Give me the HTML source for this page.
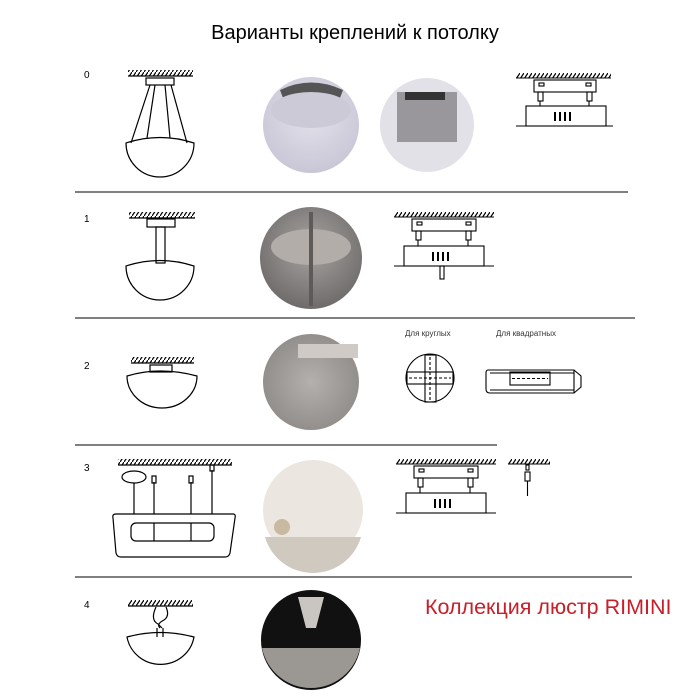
<!DOCTYPE html>
<html><head><meta charset="utf-8"><style>
html,body{margin:0;padding:0;background:#fff;width:700px;height:700px;overflow:hidden}
svg{display:block}
text{font-family:"Liberation Sans","Noto Sans CJK SC",sans-serif}
</style></head><body>
<svg width="700" height="700" viewBox="0 0 700 700" xmlns="http://www.w3.org/2000/svg">
<defs>
<pattern id="h" width="4" height="6" patternUnits="userSpaceOnUse"><line x1="0" y1="6" x2="4" y2="0" stroke="#000" stroke-width="1.2"/></pattern>
<radialGradient id="g0" cx="50%" cy="40%" r="60%"><stop offset="0" stop-color="#e4e2ec"/><stop offset="1" stop-color="#c9c6d6"/></radialGradient>
<radialGradient id="g1" cx="50%" cy="40%" r="60%"><stop offset="0" stop-color="#a8a4a2"/><stop offset="1" stop-color="#6f6b6a"/></radialGradient>
<radialGradient id="g2" cx="50%" cy="50%" r="60%"><stop offset="0" stop-color="#b4b0ad"/><stop offset="1" stop-color="#8c8886"/></radialGradient>
</defs>
<text x="355" y="39" font-size="20" text-anchor="middle">Варианты креплений к потолку</text>
<g font-size="10"><text x="84" y="78">0</text><text x="84" y="222">1</text><text x="84" y="369">2</text><text x="84" y="471">3</text><text x="84" y="608">4</text></g>
<g stroke="#000" stroke-width="1"><line x1="75" y1="192" x2="628" y2="192"/><line x1="75" y1="318" x2="635" y2="318"/><line x1="75" y1="445" x2="497" y2="445"/><line x1="75" y1="577" x2="632" y2="577"/></g>
<g fill="none" stroke="#000" stroke-width="1.2">
<!-- row0 -->
<rect x="128" y="70" width="65" height="6" fill="url(#h)" stroke="none"/><line x1="128" y1="76" x2="193" y2="76"/>
<rect x="146" y="78" width="28" height="7"/>
<path d="M150,85 L131,143 M155,85 L147,138 M165,85 L170,138 M171,85 L187,143"/>
<path d="M126,143 Q160,132 194,143 A34,34 0 0 1 126,143 Z"/>
<!-- row1 -->
<rect x="129" y="212" width="66" height="6" fill="url(#h)" stroke="none"/><line x1="129" y1="218" x2="195" y2="218"/>
<rect x="147" y="219" width="28" height="8"/><rect x="156" y="227" width="9" height="36"/>
<path d="M126,266 Q160,255 194,266 A34,34 0 0 1 126,266 Z"/>
<!-- row2 -->
<rect x="131" y="357" width="63" height="6" fill="url(#h)" stroke="none"/><line x1="131" y1="363" x2="194" y2="363"/>
<rect x="150" y="365" width="22" height="7"/>
<path d="M127,376 Q160,366 197,376 A35,32 0 0 1 127,376 Z"/>
<!-- row3 -->
<rect x="118" y="459" width="114" height="6" fill="url(#h)" stroke="none"/><line x1="118" y1="465" x2="232" y2="465"/>
<ellipse cx="134" cy="477" rx="12" ry="6"/>
<path d="M134,483 V514 M154,482 V514 M191,482 V514 M212,470 V514"/>
<rect x="152" y="476" width="4" height="7"/><rect x="189" y="476" width="4" height="7"/><rect x="210" y="465" width="4" height="6"/>
<path d="M116,514 L233,514 Q236,514 235,518 L230,553 Q229,557 225,557 L121,557 Q117,557 116,553 L113,518 Q112,514 116,514 Z"/>
<rect x="131" y="523" width="83" height="18" rx="5"/><path d="M154,523V541 M191,523V541"/>
<!-- row4 -->
<rect x="128" y="600" width="65" height="6" fill="url(#h)" stroke="none"/><line x1="128" y1="606" x2="193" y2="606"/>
<path d="M156,607 Q150,620 158,624 L162,628 M166,607 Q170,616 164,620 Q156,624 160,628 M157,628 V637 M163,628 V637"/>
<path d="M127,637 Q160,628 194,637 A34,33 0 0 1 127,637 Z"/>
</g>
<!-- photos -->
<circle cx="311" cy="125" r="48" fill="url(#g0)"/>
<path d="M280,90 Q311,75 343,90 L340,98 L283,98 Z" fill="#555"/>
<ellipse cx="311" cy="110" rx="40" ry="18" fill="#cdcad8"/>
<circle cx="427" cy="125" r="47" fill="#e3e1e8"/>
<rect x="397" y="92" width="60" height="50" fill="#9a979c"/><rect x="405" y="92" width="40" height="8" fill="#333"/>
<circle cx="311" cy="258" r="51" fill="url(#g1)"/>
<ellipse cx="311" cy="247" rx="40" ry="18" fill="#b3adaa"/><rect x="309" y="212" width="4" height="94" fill="#5e5a58"/>
<circle cx="311" cy="382" r="48" fill="url(#g2)"/>
<rect x="298" y="344" width="60" height="14" fill="#cfcac6"/>
<circle cx="313" cy="510" r="50" fill="#ebe6e0"/>
<path d="M265,537 L361,537 A50,50 0 0 1 265,537 Z" fill="#cfc9c0"/>
<circle cx="282" cy="527" r="8" fill="#c9b9a0"/>
<circle cx="311" cy="640" r="50" fill="#111"/>
<path d="M262,648 L360,648 A50,50 0 0 1 262,648 Z" fill="#9b9894"/>
<path d="M298,597 L324,597 L316,628 L306,628 Z" fill="#c9c6c2"/>
<!-- right diagrams -->
<g fill="none" stroke="#000" stroke-width="1.1">
<g transform="translate(516,73)">
<rect x="0" y="0" width="95" height="5" fill="url(#h)" stroke="none"/><line x1="0" y1="5" x2="95" y2="5"/>
<rect x="18" y="7" width="62" height="12"/><rect x="23" y="10" width="5" height="3"/><rect x="70" y="10" width="5" height="3"/>
<rect x="22" y="19" width="5" height="9"/><rect x="71" y="19" width="5" height="9"/>
<line x1="24" y1="28" x2="24" y2="33"/><line x1="73" y1="28" x2="73" y2="33"/>
<rect x="10" y="33" width="80" height="20"/><line x1="0" y1="53" x2="97" y2="53"/>
<path d="M39,39V48 M44,39V48 M49,39V48 M54,39V48" stroke-width="2"/>
</g>
<g transform="translate(394,212)">
<rect x="0" y="0" width="100" height="5" fill="url(#h)" stroke="none"/><line x1="0" y1="5" x2="100" y2="5"/>
<rect x="18" y="7" width="64" height="12"/><rect x="23" y="10" width="5" height="3"/><rect x="72" y="10" width="5" height="3"/>
<rect x="22" y="19" width="5" height="9"/><rect x="72" y="19" width="5" height="9"/>
<line x1="24" y1="28" x2="24" y2="34"/><line x1="74" y1="28" x2="74" y2="34"/>
<rect x="10" y="34" width="80" height="20"/><line x1="0" y1="54" x2="100" y2="54"/>
<rect x="46" y="54" width="4" height="13"/>
<path d="M39,40V49 M44,40V49 M49,40V49 M54,40V49" stroke-width="2"/>
</g>
<g transform="translate(396,459)">
<rect x="0" y="0" width="100" height="5" fill="url(#h)" stroke="none"/><line x1="0" y1="5" x2="100" y2="5"/>
<rect x="18" y="7" width="64" height="12"/><rect x="23" y="10" width="5" height="3"/><rect x="72" y="10" width="5" height="3"/>
<rect x="22" y="19" width="5" height="9"/><rect x="72" y="19" width="5" height="9"/>
<line x1="24" y1="28" x2="24" y2="34"/><line x1="74" y1="28" x2="74" y2="34"/>
<rect x="10" y="34" width="80" height="20"/><line x1="0" y1="54" x2="100" y2="54"/>
<path d="M39,40V49 M44,40V49 M49,40V49 M54,40V49" stroke-width="2"/>
</g>
<g transform="translate(508,459)">
<rect x="0" y="0" width="42" height="5" fill="url(#h)" stroke="none"/><line x1="0" y1="5" x2="42" y2="5"/>
<rect x="18" y="6" width="3" height="5"/><rect x="17" y="13" width="5" height="9"/><line x1="19.5" y1="22" x2="19.5" y2="37"/>
</g>
<circle cx="430" cy="378" r="24"/>
<rect x="425" y="355" width="11" height="47"/><rect x="407" y="372" width="46" height="12"/>
<path d="M409,378H451 M430,357V400" stroke-dasharray="3,2"/>
<path d="M488,370 H574 L581,376 V387 L574,393 H490 Q486,393 486,389 V373 Q486,370 488,370 Z"/>
<path d="M574,370 V393 M490,373 H574 M490,390 H574"/>
<rect x="510" y="372" width="40" height="13"/><path d="M512,378.5H548" stroke-dasharray="3,2"/>
</g>
<text x="405" y="336" font-size="8" fill="#333">Для круглых</text>
<text x="496" y="336" font-size="8" fill="#333">Для квадратных</text>
<text x="425" y="614" font-size="21.5" fill="#c8202a">Коллекция люстр RIMINI</text>
</svg>
</body></html>
